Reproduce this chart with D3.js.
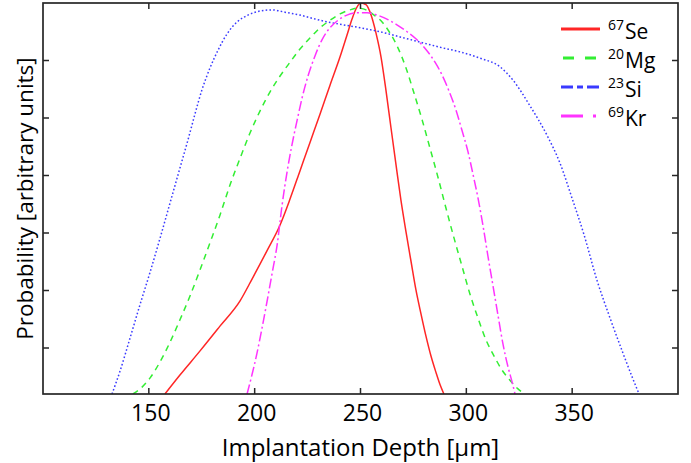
<!doctype html>
<html>
<head>
<meta charset="utf-8">
<style>
    body { margin: 0; background: #fff; font-family: 'Open Sans', sans-serif; }
    svg { display: block; }
    .frame { fill: none; stroke: #262626; stroke-width: 1.7; }
    .tick-mark { stroke: #262626; stroke-width: 1.5; }
    text.tick { font-size: 23px; fill: #000; }
    text.label { font-size: 24px; fill: #000; }
    text.ylabel { font-size: 22.5px; fill: #000; }
    text.legend { font-size: 21px; fill: #000; }
    text.mass { font-size: 14px; fill: #000; }
    .curve { fill: none; stroke-width: 1.5; }
</style>
<script src="https://d3js.org/d3.v7.min.js"></script>
</head>
<body>
<svg width="691" height="463"></svg>
<script>
// values (depth in um, probability in arbitrary units)
const seDepth = [157.6, 164.7, 174.2, 183.6, 193.1, 199.2, 205.8, 212.0, 216.7, 221.4, 226.1, 230.9, 235.6, 240.3, 243.6, 246.0, 247.9, 250.2, 252.6, 255.0, 257.3, 259.7, 262.0, 264.4, 266.8, 269.1, 271.5, 273.9, 276.2, 278.6, 280.9, 283.3, 285.7, 287.6, 289.4];
const seProb  = [0.2, 0.53, 0.95, 1.38, 1.82, 2.23, 2.69, 3.14, 3.59, 4.08, 4.57, 5.07, 5.57, 6.06, 6.44, 6.72, 6.90, 7.0, 6.97, 6.79, 6.48, 6.06, 5.49, 4.83, 4.18, 3.57, 3.02, 2.50, 2.01, 1.59, 1.21, 0.86, 0.57, 0.36, 0.2];

const mgDepth = [142.5, 146.8, 150.6, 155.3, 160.0, 164.7, 169.4, 174.2, 178.9, 183.6, 188.3, 193.1, 197.8, 202.5, 207.2, 212.0, 216.7, 221.4, 226.1, 230.9, 235.6, 240.3, 245.0, 248.8, 252.6, 256.4, 260.2, 263.9, 267.7, 271.5, 275.3, 279.1, 282.8, 286.6, 290.4, 294.2, 297.9, 301.7, 305.5, 309.3, 313.1, 316.8, 320.6, 324.4, 327.7];
const mgProb  = [0.2, 0.32, 0.48, 0.76, 1.10, 1.49, 1.90, 2.36, 2.83, 3.31, 3.83, 4.30, 4.74, 5.12, 5.45, 5.73, 5.97, 6.20, 6.39, 6.57, 6.70, 6.81, 6.88, 6.91, 6.88, 6.79, 6.67, 6.48, 6.22, 5.87, 5.43, 4.97, 4.48, 3.97, 3.43, 2.91, 2.43, 1.94, 1.52, 1.14, 0.86, 0.62, 0.44, 0.29, 0.2];

const siDepth = [132.6, 136.4, 141.1, 145.8, 150.6, 155.3, 160.0, 164.7, 168.5, 171.8, 175.1, 178.9, 182.7, 186.9, 191.7, 196.8, 202.5, 208.2, 214.3, 221.4, 230.9, 240.3, 249.8, 259.2, 268.7, 278.1, 287.6, 297.0, 306.5, 315.9, 322.0, 330.1, 338.1, 344.2, 349.9, 355.6, 361.7, 367.9, 374.0, 378.3, 381.6];
const siProb  = [0.2, 0.60, 1.17, 1.75, 2.32, 2.91, 3.52, 4.13, 4.62, 5.07, 5.49, 5.87, 6.18, 6.46, 6.67, 6.79, 6.86, 6.88, 6.84, 6.79, 6.70, 6.63, 6.57, 6.50, 6.41, 6.32, 6.23, 6.15, 6.04, 5.89, 5.66, 5.21, 4.70, 4.22, 3.61, 2.97, 2.18, 1.52, 0.91, 0.50, 0.2];

const krDepth = [196.4, 198.7, 201.1, 203.5, 205.8, 208.2, 210.6, 212.9, 215.3, 217.6, 220.0, 222.4, 225.2, 228.5, 231.8, 235.6, 239.4, 243.6, 248.3, 253.1, 257.8, 262.5, 267.2, 272.0, 276.7, 281.4, 285.2, 288.5, 291.8, 295.1, 297.9, 300.8, 303.1, 305.5, 307.9, 310.2, 312.6, 315.0, 317.3, 319.7, 321.6, 323.0];
const krProb  = [0.2, 0.53, 0.91, 1.35, 1.80, 2.29, 2.79, 3.47, 4.06, 4.53, 4.95, 5.35, 5.73, 6.08, 6.36, 6.57, 6.70, 6.79, 6.83, 6.83, 6.79, 6.72, 6.62, 6.50, 6.36, 6.17, 5.97, 5.75, 5.47, 5.14, 4.79, 4.41, 4.03, 3.61, 3.12, 2.60, 2.08, 1.56, 1.07, 0.67, 0.41, 0.2];

const xTicks = [150, 200, 250, 300, 350];
const yTicks = [1, 2, 3, 4, 5, 6];

const series = [
    { name: 'Se', mass: '67', depth: seDepth, prob: seProb, color: '#ff2626', dash: null,       legendDash: null,         legendWidth: 2.8 },
    { name: 'Mg', mass: '20', depth: mgDepth, prob: mgProb, color: '#33ee33', dash: '6,5',      legendDash: '0,2,11,9',   legendWidth: 2.8 },
    { name: 'Si', mass: '23', depth: siDepth, prob: siProb, color: '#3a3aff', dash: '1.6,2.2',  legendDash: '12,4,6,4',   legendWidth: 3 },
    { name: 'Kr', mass: '69', depth: krDepth, prob: krProb, color: '#ff33ff', dash: '10,3,2,3', legendDash: '22,10,3,10', legendWidth: 2.8 }
];

const svg = d3.select('svg');
const pLeft = 43, pRight = 678, pTop = 3, pBottom = 394;

const x = d3.scaleLinear().domain([100, 400]).range([pLeft, pRight]);
const y = d3.scaleLinear().domain([0.2, 7]).range([pBottom, pTop]);

svg.append('clipPath').attr('id', 'plot')
    .append('rect')
    .attr('x', pLeft).attr('y', pTop)
    .attr('width', pRight - pLeft).attr('height', pBottom - pTop);

const line = d3.line()
    .x(d => x(d[0]))
    .y(d => y(d[1]))
    .curve(d3.curveMonotoneX);

const curves = svg.append('g').attr('clip-path', 'url(#plot)');
series.forEach(s => {
    curves.append('path')
        .attr('class', 'curve')
        .attr('d', line(d3.zip(s.depth, s.prob)))
        .attr('stroke', s.color)
        .attr('stroke-dasharray', s.dash);
});

// ticks on all four sides, pointing inwards
const tl = 6;
xTicks.forEach(t => {
    svg.append('line').attr('class', 'tick-mark')
        .attr('x1', x(t)).attr('x2', x(t)).attr('y1', pBottom).attr('y2', pBottom - tl);
    svg.append('line').attr('class', 'tick-mark')
        .attr('x1', x(t)).attr('x2', x(t)).attr('y1', pTop).attr('y2', pTop + tl);
    svg.append('text').attr('class', 'tick')
        .attr('x', x(t) + 2).attr('y', 421)
        .attr('text-anchor', 'middle')
        .text(t);
});
yTicks.forEach(t => {
    svg.append('line').attr('class', 'tick-mark')
        .attr('x1', pLeft).attr('x2', pLeft + tl).attr('y1', y(t)).attr('y2', y(t));
    svg.append('line').attr('class', 'tick-mark')
        .attr('x1', pRight).attr('x2', pRight - tl).attr('y1', y(t)).attr('y2', y(t));
});

svg.append('rect').attr('class', 'frame')
    .attr('x', pLeft).attr('y', pTop)
    .attr('width', pRight - pLeft).attr('height', pBottom - pTop);

svg.append('text').attr('class', 'label')
    .attr('x', (pLeft + pRight) / 2).attr('y', 456)
    .attr('text-anchor', 'middle')
    .text('Implantation Depth [μm]');

svg.append('text').attr('class', 'ylabel')
    .attr('transform', `translate(33, ${(pTop + pBottom) / 2}) rotate(-90)`)
    .attr('text-anchor', 'middle')
    .text('Probability [arbitrary units]');

// legend: mass number as a separate small text, element name after it
const legend = svg.append('g');
series.forEach((s, i) => {
    const ly = 29 + i * 29;
    legend.append('line')
        .attr('x1', 561).attr('x2', 600)
        .attr('y1', ly).attr('y2', ly)
        .attr('stroke', s.color)
        .attr('stroke-width', s.legendWidth)
        .attr('stroke-dasharray', s.legendDash);
    const sup = legend.append('text').attr('class', 'mass')
        .attr('x', 608).attr('y', ly + 1)
        .text(s.mass);
    legend.append('text').attr('class', 'legend')
        .attr('x', 608 + sup.node().getComputedTextLength() + 1)
        .attr('y', ly + 10)
        .text(s.name);
});
</script>
</body>
</html>
